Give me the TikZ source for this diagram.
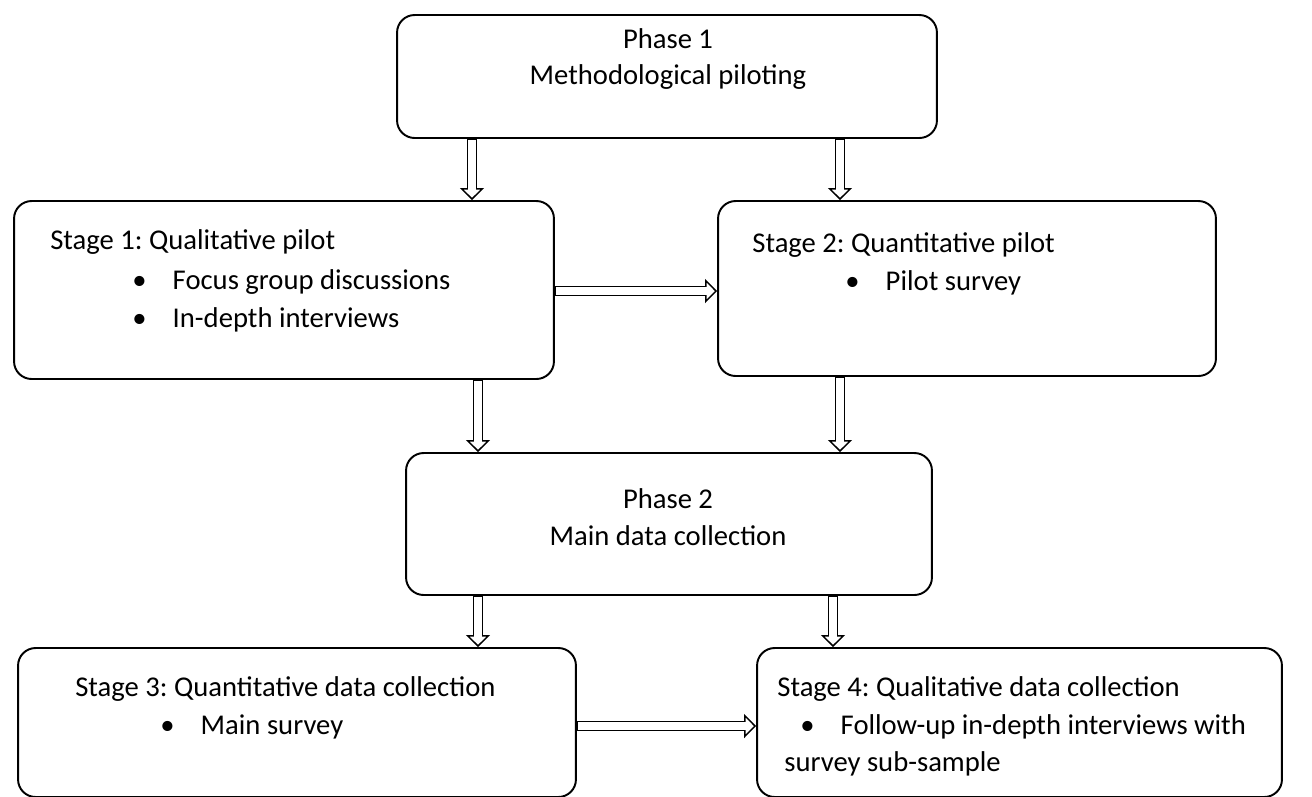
\documentclass[tikz,border=0pt]{standalone}
\usepackage{fontspec}
\setmainfont{Carlito}
\usetikzlibrary{arrows.meta,positioning}
\frenchspacing
\newcommand\bitem[4]{\node(#1)[txt,anchor=base west] at (#2,#3){\makebox[23pt][l]{\textbullet}#4};}

\begin{document}
\begin{tikzpicture}[x=0.02cm,y=-0.02cm,
    box/.style={draw,line width=1.1pt,rounded corners=10pt,inner sep=0pt},
    txt/.style={inner sep=0pt,font=\fontsize{16.3pt}{20.4pt}\selectfont},
    harrow/.style={draw=black,line width=6.2pt,
        -{Triangle[width=13.6pt,length=6.8pt,line width=0.85pt,fill=white]},
        postaction={draw=white,line width=4.5pt,arrows=-,shorten >=5.5pt,shorten <=0.8pt}}]
    \useasboundingbox (0,0) rectangle (1312,796);

    \node(p1)[box,minimum width=10.8cm,minimum height=2.46cm]  at (667,76.5)  {};
    \node(s1)[box,minimum width=10.8cm,minimum height=3.56cm]  at (284,290)   {};
    \node(s2)[box,minimum width=9.96cm,minimum height=3.5cm]   at (967,288.5) {};
    \node(p2)[box,minimum width=10.52cm,minimum height=2.84cm] at (669,524)   {};
    \node(s3)[box,minimum width=11.16cm,minimum height=2.98cm] at (297,722.5) {};
    \node(s4)[box,minimum width=10.5cm,minimum height=2.98cm]  at (1019.5,722.5) {};

    \node(p1a)[txt,anchor=base] at (668,48)  {Phase 1};
    \node(p1b)[txt,anchor=base] at (668,84)  {Methodological piloting};
    \node(s1h)[txt,anchor=base west] at (50,249)  {Stage 1: Qualitative pilot};
    \bitem{s1i}{132}{289}{Focus group discussions}
    \bitem{s1j}{132}{327}{In-depth interviews}
    \node(s2h)[txt,anchor=base west] at (752,252) {Stage 2: Quantitative pilot};
    \bitem{s2i}{845}{290}{Pilot survey}
    \node(p2a)[txt,anchor=base] at (668,508) {Phase 2};
    \node(p2b)[txt,anchor=base] at (668,545) {Main data collection};
    \node(s3h)[txt,anchor=base west] at (75,696)  {Stage 3: Quantitative data collection};
    \bitem{s3i}{160}{734}{Main survey}
    \node(s4h)[txt,anchor=base west] at (777,696) {Stage 4: Qualitative data collection};
    \bitem{s4i}{800}{734}{Follow-up in-depth interviews with}
    \node(s4j)[txt,anchor=base west] at (784,771) {survey sub-sample};

    \coordinate(cA) at (472,0);
    \coordinate(cB) at (840,0);
    \coordinate(cC) at (478,0);
    \coordinate(cD) at (833,0);
    \coordinate(rA) at (0,291);
    \coordinate(rB) at (0,726);

    \draw[harrow] (p1.south -| cA) -- (s1.north -| cA);
    \draw[harrow] (p1.south -| cB) -- (s2.north -| cB);
    \draw[harrow] (s1.east |- rA)  -- (s2.west |- rA);
    \draw[harrow] (s1.south -| cC) -- (p2.north -| cC);
    \draw[harrow] (s2.south -| cB) -- (p2.north -| cB);
    \draw[harrow] (p2.south -| cC) -- (s3.north -| cC);
    \draw[harrow] (p2.south -| cD) -- (s4.north -| cD);
    \draw[harrow] (s3.east |- rB)  -- (s4.west |- rB);
\end{tikzpicture}
\end{document}
